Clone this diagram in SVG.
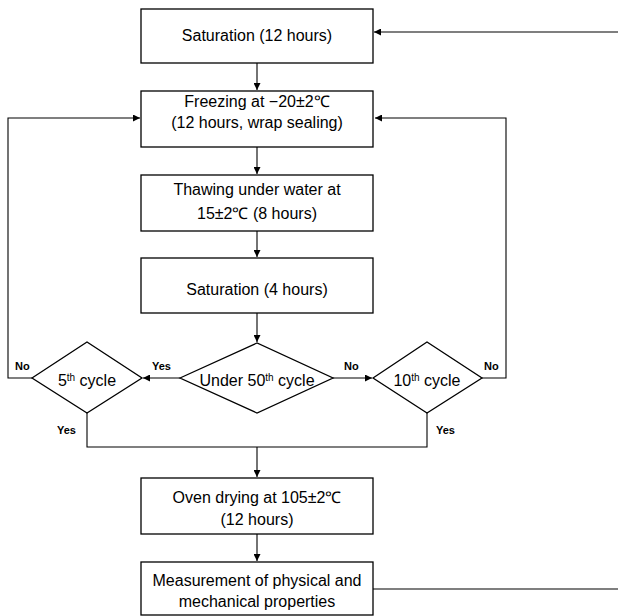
<svg xmlns="http://www.w3.org/2000/svg" width="618" height="616" viewBox="0 0 618 616">
<style>
.box{fill:#fff;stroke:#000;stroke-width:1.3}
.t{font-family:"Liberation Sans",Arial,sans-serif;font-size:16px;fill:#000;text-anchor:middle}
.sup{font-size:10px}
.lab{font-family:"Liberation Sans",Arial,sans-serif;font-size:11px;font-weight:bold;fill:#000}
.c{fill:none;stroke:#000;stroke-width:1.1}
</style>
<defs>
<marker id="ah" viewBox="0 0 10 10" refX="10" refY="5" markerWidth="7" markerHeight="7" markerUnits="userSpaceOnUse" orient="auto">
<path d="M0,0 L10,5 L0,10 z" fill="#000"/>
</marker>
</defs>
<rect width="618" height="616" fill="#fff"/>
<g id="connectors">
<line class="c" x1="618" y1="32" x2="374" y2="32" marker-end="url(#ah)"/>
<line class="c" x1="257" y1="63" x2="257" y2="90" marker-end="url(#ah)"/>
<line class="c" x1="257" y1="147" x2="257" y2="174" marker-end="url(#ah)"/>
<line class="c" x1="257" y1="231" x2="257" y2="257" marker-end="url(#ah)"/>
<line class="c" x1="257" y1="313" x2="257" y2="342" marker-end="url(#ah)"/>
<line class="c" x1="180" y1="378" x2="143" y2="378" marker-end="url(#ah)"/>
<line class="c" x1="333" y1="378" x2="372" y2="378" marker-end="url(#ah)"/>
<polyline class="c" points="32,378 8,378 8,118 140,118" marker-end="url(#ah)"/>
<polyline class="c" points="482,378 506,378 506,118 375,118" marker-end="url(#ah)"/>
<polyline class="c" points="87,413 87,447 427,447 427,413"/>
<line class="c" x1="257" y1="447" x2="257" y2="477" marker-end="url(#ah)"/>
<line class="c" x1="257" y1="534" x2="257" y2="561" marker-end="url(#ah)"/>
<line class="c" x1="373" y1="589" x2="618" y2="589"/>
<text class="lab" x="15" y="370">No</text>
<text class="lab" x="152" y="370">Yes</text>
<text class="lab" x="344" y="370">No</text>
<text class="lab" x="484" y="370">No</text>
<text class="lab" x="57" y="434">Yes</text>
<text class="lab" x="436" y="434">Yes</text>
</g>
<g id="n1"><rect class="box" x="141" y="9" width="232" height="54"/><text class="t" x="257" y="41">Saturation (12 hours)</text></g>
<g id="n2"><rect class="box" x="141" y="91" width="232" height="56"/><text class="t" x="257" y="107">Freezing at −20±2℃</text><text class="t" x="257" y="128">(12 hours, wrap sealing)</text></g>
<g id="n3"><rect class="box" x="141" y="175" width="232" height="56"/><text class="t" x="257" y="195">Thawing under water at</text><text class="t" x="257" y="219">15±2℃ (8 hours)</text></g>
<g id="n4"><rect class="box" x="141" y="258" width="232" height="55"/><text class="t" x="257" y="295">Saturation (4 hours)</text></g>
<g id="d1"><polygon class="box" points="180,378 257,343 333,378 257,413"/><text class="t" x="257" y="386">Under 50<tspan class="sup" dy="-5">th</tspan><tspan dy="5"> cycle</tspan></text></g>
<g id="d2"><polygon class="box" points="32,378 87,342 142,378 87,413"/><text class="t" x="87" y="386">5<tspan class="sup" dy="-5">th</tspan><tspan dy="5"> cycle</tspan></text></g>
<g id="d3"><polygon class="box" points="373,378 427,342 482,378 427,413"/><text class="t" x="427" y="386">10<tspan class="sup" dy="-5">th</tspan><tspan dy="5"> cycle</tspan></text></g>
<g id="n5"><rect class="box" x="141" y="478" width="232" height="56"/><text class="t" x="257" y="503">Oven drying at 105±2℃</text><text class="t" x="257" y="525">(12 hours)</text></g>
<g id="n6"><rect class="box" x="141" y="562" width="232" height="53"/><text class="t" x="257" y="586">Measurement of physical and</text><text class="t" x="257" y="607">mechanical properties</text></g>
</svg>
